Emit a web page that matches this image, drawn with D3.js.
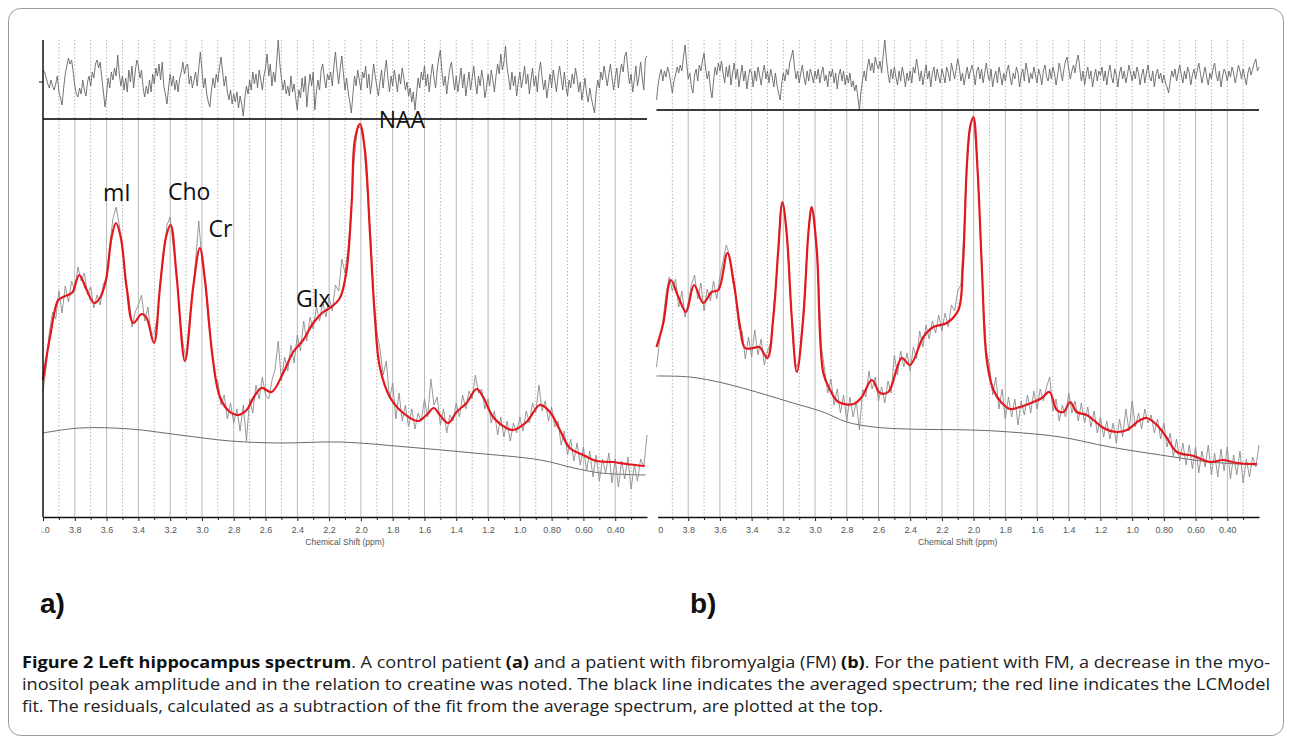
<!DOCTYPE html>
<html>
<head>
<meta charset="utf-8">
<script src="https://cdn.jsdelivr.net/npm/d3@7"></script>
<style>
body { margin: 0; background: #fff; }
svg { display: block; }
</style>
</head>
<body>
<svg id="fig" width="1292" height="745"></svg>
<script>
// x axis ticks (ppm)
var tickPpm = [4.0, 3.8, 3.6, 3.4, 3.2, 3.0, 2.8, 2.6, 2.4, 2.2, 2.0, 1.8, 1.6, 1.4, 1.2, 1.0, 0.8, 0.6, 0.4];
var tickLabels = ["4.0", "3.8", "3.6", "3.4", "3.2", "3.0", "2.8", "2.6", "2.4", "2.2", "2.0", "1.8", "1.6", "1.4", "1.2", "1.0", "0.80", "0.60", "0.40"];
var minorPpm = [3.9, 3.7, 3.5, 3.3, 3.1, 2.9, 2.7, 2.5, 2.3, 2.1, 1.9, 1.7, 1.5, 1.3, 1.1, 0.9, 0.7, 0.5, 0.3];

// metabolite labels (panel a), ppm and intensity of the label anchor
var metNames = ["mI", "Cho", "Cr", "Glx", "NAA"];
var metPpm = [3.535, 3.08, 2.884, 2.30, 1.742];
var metInt = [316, 317, 280, 210, 389];

// LCModel fit, [ppm, intensity a.u.]
var fitA = [[4.00,137],[3.956,180],[3.904,217],[3.872,220],[3.830,223],[3.813,225],[3.772,242],[3.725,227],[3.679,214],[3.642,219],[3.604,237],[3.568,280],[3.541,294],[3.511,280],[3.474,230],[3.432,194],[3.379,203],[3.348,199],[3.302,174],[3.264,230],[3.226,280],[3.197,292],[3.159,240],[3.107,156],[3.055,230],[3.013,269],[2.981,237],[2.933,160],[2.887,120],[2.824,105],[2.772,102],[2.719,107],[2.673,120],[2.625,129],[2.562,125],[2.489,144],[2.426,165],[2.363,177],[2.300,194],[2.237,205],[2.195,209],[2.132,219],[2.090,247],[2.058,314],[2.038,377],[2.006,393],[1.975,367],[1.943,284],[1.912,200],[1.881,150],[1.818,120],[1.734,104],[1.640,96],[1.587,102],[1.541,109],[1.503,102],[1.451,94],[1.398,105],[1.335,114],[1.272,128],[1.231,120],[1.168,100],[1.084,89],[1.042,87],[0.958,95],[0.874,112],[0.811,105],[0.748,87],[0.686,69],[0.602,62],[0.518,56],[0.413,55],[0.329,53],[0.214,51]];
var fitB = [[4.00,170],[3.957,194],[3.910,237],[3.862,220],[3.814,205],[3.763,232],[3.705,214],[3.652,225],[3.610,227],[3.553,264],[3.515,237],[3.473,190],[3.442,169],[3.389,169],[3.351,170],[3.301,159],[3.263,200],[3.232,267],[3.206,315],[3.179,284],[3.147,200],[3.115,145],[3.074,200],[3.042,284],[3.021,310],[2.989,267],[2.948,144],[2.905,127],[2.853,115],[2.758,113],[2.705,120],[2.642,137],[2.590,124],[2.538,125],[2.453,159],[2.401,152],[2.317,180],[2.254,190],[2.169,194],[2.096,207],[2.068,250],[2.043,350],[2.022,390],[2.001,400],[1.976,350],[1.948,250],[1.917,157],[1.875,127],[1.822,114],[1.770,108],[1.707,110],[1.623,115],[1.570,119],[1.522,125],[1.475,107],[1.433,105],[1.391,115],[1.349,105],[1.286,102],[1.244,97],[1.181,89],[1.096,85],[1.033,87],[0.950,97],[0.907,99],[0.844,92],[0.781,79],[0.718,65],[0.613,61],[0.508,55],[0.424,57],[0.340,54],[0.213,53]];

// fitted baseline, [ppm, intensity]
var baseA = [[4.00,84],[3.77,89],[3.45,88],[3.14,82],[2.82,76],[2.51,74],[2.13,75],[1.71,70],[1.29,64],[0.87,57],[0.66,49],[0.49,44],[0.21,42]];
var baseB = [[4.00,141],[3.79,140],[3.58,134],[3.37,125],[3.16,115],[2.95,105],[2.80,95],[2.63,90],[2.42,88],[2.02,87],[1.77,85],[1.45,80],[1.14,70],[0.82,62],[0.51,55],[0.21,52]];

// averaged spectrum, one value every 0.02 ppm from 4.00 down to 0.20
var specStep = 0.02;
var specA = [
  125,150,185,205,198,226,204,231,215,236,
  226,250,236,244,222,230,209,222,212,233,
  238,272,298,310,292,270,232,220,190,205,
  212,222,196,210,182,184,200,240,262,292,
  300,270,246,200,174,158,194,220,256,296,
  256,236,196,172,140,136,112,122,98,114,
  94,108,86,112,76,118,104,132,118,140,
  122,118,136,148,176,136,160,146,172,154,
  182,166,196,176,200,188,210,196,215,200,
  220,206,232,226,258,244,270,310,362,392,
  388,372,326,284,222,186,168,142,156,118,
  134,98,124,96,112,90,108,88,104,96,
  118,100,138,112,120,92,108,84,102,96,
  114,100,122,108,126,118,142,124,128,108,
  118,94,106,82,100,80,96,76,94,84,
  100,86,106,94,114,104,132,106,116,96,
  110,90,96,72,86,62,78,56,74,52,
  70,46,66,40,62,36,58,44,64,34,
  58,30,56,38,60,28,52,36,58,50,
  82];
var specB = [
  150,176,196,222,240,226,238,210,226,200,
  214,232,242,218,234,206,228,216,236,218,
  240,256,272,262,236,220,188,186,158,180,
  160,187,162,178,152,166,174,210,248,304,
  314,284,232,176,150,156,194,238,294,310,
  282,244,170,148,124,138,112,128,104,122,
  96,120,100,116,87,128,120,146,128,140,
  116,130,114,136,124,162,142,166,150,164,
  146,170,158,186,170,192,178,196,184,202,
  186,204,190,212,206,226,232,290,356,394,
  398,362,298,218,166,152,122,140,108,128,
  98,120,100,118,92,116,102,122,104,126,
  108,128,116,130,140,106,118,96,112,100,
  124,104,116,96,114,94,110,90,106,84,
  100,80,96,78,94,74,98,80,108,86,
  116,90,104,88,108,94,102,84,98,78,
  94,70,84,60,78,56,74,52,72,48,
  70,44,66,50,72,42,64,40,68,46,
  70,38,62,42,66,34,58,40,60,50,
  72];

// residuals, one value every 0.01 ppm from 4.00 down to 0.20
var resStep = 0.01;
var resA = [
  12,10,4,-2,-6,2,-4,-8,-2,6,-10,-16,-23,-6,8,16,24,18,22,10,
  -4,-12,-15,-6,-12,2,-8,-14,0,6,-4,10,4,18,22,14,20,4,-10,-25,
  -12,4,-6,10,2,14,6,27,8,-4,6,-8,4,-10,12,0,16,-6,10,22,
  16,4,12,-6,-15,-4,-12,2,-10,8,-2,14,6,18,2,20,-4,-12,-22,-6,
  8,-4,6,-8,2,-10,4,10,20,8,16,18,-2,6,-6,2,10,-4,14,30,
  12,-6,4,-12,-20,-25,-8,4,-6,8,0,14,25,10,-4,6,-10,-18,-8,-22,
  -12,-20,-10,-26,-14,-22,-34,-16,-4,-12,2,-8,10,-2,8,-6,12,2,-8,6,
  14,28,6,18,-4,10,0,20,42,18,4,-8,2,-12,-4,-14,6,-10,-2,-16,
  -28,-8,-16,4,-10,6,-25,-6,8,-4,10,-28,-10,2,-8,12,18,4,-6,8,
  2,10,-4,16,30,12,-2,14,26,8,-8,4,-10,-20,-31,-12,6,-4,12,2,
  -8,10,4,16,-6,8,-12,2,18,6,-4,-14,0,12,-6,10,22,4,-10,6,
  -4,12,2,-10,8,-2,14,4,-8,0,-14,-6,-20,-10,-28,-12,4,-6,10,2,
  16,-4,8,-10,6,18,4,-6,12,24,32,10,-4,6,-12,2,14,20,4,-8,
  6,-10,2,14,-6,8,-14,-2,10,-8,4,16,0,-12,6,-4,12,2,-16,-6,
  8,-4,12,2,-10,6,18,8,28,12,20,36,14,4,-8,10,-4,6,-14,0,
  10,-6,4,16,-2,8,-12,2,14,-4,6,-10,10,20,4,-8,2,-16,-4,8,
  -6,12,2,-10,6,16,4,-8,10,-4,-14,2,-6,8,-2,14,4,-10,0,-18,
  -8,4,-12,-20,-6,-16,-24,-31,-10,2,-6,10,2,16,6,-4,8,18,4,-8,
  4,14,-6,8,18,10,26,30,12,-2,8,-10,2,16,-4,6,20,4,-8,24,
  26];
var resB = [
  -23,-8,2,8,-4,6,0,10,4,-6,-16,-4,2,10,4,12,6,20,32,14,
  -2,4,-10,-16,2,8,-4,12,6,16,24,8,-2,6,-12,-21,-4,10,2,14,
  6,16,4,-6,10,0,12,-8,4,14,-2,8,-10,2,12,-4,6,-12,0,8,
  4,-10,6,-4,10,2,-8,4,12,-2,6,-6,8,0,-10,4,-8,-16,-23,-6,
  4,-4,8,2,14,20,27,10,-2,6,-6,4,12,0,-8,6,-4,8,2,-6,
  6,-2,8,-6,4,10,-4,2,-10,6,0,8,-6,4,-12,2,8,-4,6,-8,
  2,-6,4,-10,-4,-14,-8,-20,-33,-14,-2,6,-4,10,18,6,14,4,20,12,
  8,16,4,22,37,18,4,-6,8,-2,10,0,-8,6,-4,10,2,-10,4,-4,
  6,-6,10,4,18,8,-4,6,-8,2,12,-2,6,-10,4,10,-4,8,0,-6,
  8,2,-6,10,4,-4,14,6,-2,8,18,10,-4,4,-8,2,10,-2,6,12,
  4,-8,6,10,-2,8,-6,4,14,2,-4,8,-10,0,6,-6,10,2,-8,4,
  -4,6,12,0,-8,4,-2,10,4,-10,2,8,-4,14,6,-6,4,-2,10,2,
  -6,8,2,-8,6,12,0,-4,8,-2,10,4,-8,2,14,6,-4,8,16,20,
  8,-2,6,12,4,16,22,8,-4,6,-8,2,10,-2,6,-10,0,8,-4,6,
  2,10,-4,6,-8,4,12,0,-6,8,2,-10,4,10,-2,6,-6,2,12,4,
  -4,6,-2,10,4,-8,2,8,-6,4,12,0,-4,6,-10,2,8,-2,4,-6,
  2,-6,-10,-16,-4,6,0,8,-4,4,12,2,-6,6,-2,10,4,-8,2,8,
  -2,6,14,4,-6,2,10,0,-8,4,-2,8,14,2,-4,6,-10,0,8,4,
  -4,6,0,10,4,-6,2,12,6,-2,8,0,-8,4,10,2,8,14,18,6,
  10];

var captionLines = [
  [["Figure 2 Left hippocampus spectrum", true], [". A control patient ", false], ["(a)", true], [" and a patient with fibromyalgia (FM) ", false], ["(b)", true], [". For the patient with FM, a decrease in the myo-", false]],
  [["inositol peak amplitude and in the relation to creatine was noted. The black line indicates the averaged spectrum; the red line indicates the LCModel", false]],
  [["fit. The residuals, calculated as a subtraction of the fit from the average spectrum, are plotted at the top.", false]]
];

// ---- layout ----
var svg = d3.select("#fig");
var ppmHi = 4.0, ppmLo = 0.2;
var axisY = 517, topY = 40;

var y = d3.scaleLinear().domain([0, 400]).range([axisY, axisY - 400]);

var panels = [
  { left: 43, right: 647, lineY: 119, resMid: 82, leftAxis: true, clipPad: -1.5, fit: fitA, spec: specA, base: baseA, res: resA, tag: "a)", tagX: 40, labels: true },
  { left: 656.5, right: 1259, lineY: 110, resMid: 77, leftAxis: false, clipPad: 1.5, fit: fitB, spec: specB, base: baseB, res: resB, tag: "b)", tagX: 690, labels: false }
];

// frame
svg.append("rect")
    .attr("x", 8.5).attr("y", 8.5)
    .attr("width", 1275).attr("height", 727)
    .attr("rx", 12).attr("ry", 12)
    .attr("fill", "none").attr("stroke", "#9a9a9a").attr("stroke-width", 1);

var isMajor = function(d) { return Math.round(d * 10) % 2 === 0; };

panels.forEach(function(p, k)
{
    var x = d3.scaleLinear().domain([ppmHi, ppmLo]).range([p.left, p.right]);
    var yr = d3.scaleLinear().domain([-40, 40]).range([p.resMid + 40, p.resMid - 40]);
    var g = svg.append("g");

    // grid: dotted every 0.1 ppm, solid at 0.2 ppm below the residual line
    var gridPpm = minorPpm.concat(tickPpm.slice(1));
    g.selectAll("line.dot").data(gridPpm).join("line")
        .attr("class", "dot")
        .attr("x1", function(d) { return x(d); }).attr("x2", function(d) { return x(d); })
        .attr("y1", topY)
        .attr("y2", function(d) { return isMajor(d) ? p.lineY : axisY; })
        .attr("stroke", "#b4b4b4").attr("stroke-width", 1)
        .attr("stroke-dasharray", "1.5,2");
    g.selectAll("line.solid").data(tickPpm.slice(1)).join("line")
        .attr("class", "solid")
        .attr("x1", function(d) { return x(d); }).attr("x2", function(d) { return x(d); })
        .attr("y1", p.lineY).attr("y2", axisY)
        .attr("stroke", "#b8b8b8").attr("stroke-width", 1);

    // residuals
    var resLine = d3.line()
        .x(function(d, i) { return x(ppmHi - i * resStep); })
        .y(function(d) { return yr(d); });
    g.append("path").datum(p.res)
        .attr("d", resLine)
        .attr("fill", "none").attr("stroke", "#666").attr("stroke-width", 0.9);

    // residual zero / separator line
    g.append("line")
        .attr("x1", p.left).attr("x2", p.right)
        .attr("y1", p.lineY).attr("y2", p.lineY)
        .attr("stroke", "#3a3a3a").attr("stroke-width", 2);

    // baseline
    var smooth = d3.line()
        .x(function(d) { return x(d[0]); })
        .y(function(d) { return y(d[1]); })
        .curve(d3.curveCatmullRom.alpha(0.5));
    g.append("path").datum(p.base)
        .attr("d", smooth)
        .attr("fill", "none").attr("stroke", "#6a6a6a").attr("stroke-width", 1);

    // averaged spectrum
    var specLine = d3.line()
        .x(function(d, i) { return x(ppmHi - i * specStep); })
        .y(function(d) { return y(d); });
    g.append("path").datum(p.spec)
        .attr("d", specLine)
        .attr("fill", "none").attr("stroke", "#8c8c8c").attr("stroke-width", 0.9);

    // LCModel fit
    g.append("path").datum(p.fit)
        .attr("d", smooth)
        .attr("fill", "none").attr("stroke", "#e3171d").attr("stroke-width", 2.2)
        .attr("stroke-linejoin", "round");

    // left axis (panel a only)
    if (p.leftAxis)
    {
        g.append("line")
            .attr("x1", p.left).attr("x2", p.left)
            .attr("y1", topY).attr("y2", axisY)
            .attr("stroke", "#111").attr("stroke-width", 1.5);
        g.append("line")
            .attr("x1", p.left - 4).attr("x2", p.left)
            .attr("y1", yr(0)).attr("y2", yr(0))
            .attr("stroke", "#111").attr("stroke-width", 1);
    }

    // x axis; the 4.0 label is cut at the panel edge as in the original
    var clipId = "clip" + k;
    svg.append("clipPath").attr("id", clipId)
        .append("rect").attr("x", p.left + p.clipPad).attr("y", -5)
        .attr("width", p.right - p.left + 30).attr("height", 40);

    var axG = g.append("g")
        .attr("transform", "translate(0," + axisY + ")")
        .attr("clip-path", "url(#" + clipId + ")")
        .call(d3.axisBottom(x)
            .tickValues(tickPpm)
            .tickFormat(function(d, i) { return tickLabels[i]; })
            .tickSize(4).tickPadding(6).tickSizeOuter(0));
    axG.select(".domain").attr("stroke", "#111").attr("stroke-width", 1.6);
    axG.selectAll(".tick line").attr("stroke", "#222");
    axG.selectAll(".tick text")
        .attr("font-family", "'Liberation Sans', Arial, sans-serif")
        .attr("font-size", 9).attr("fill", "#555");

    g.append("g")
        .attr("transform", "translate(0," + axisY + ")")
        .call(d3.axisBottom(x).tickValues(minorPpm).tickFormat("").tickSize(3).tickSizeOuter(0))
        .call(function(s) { s.select(".domain").remove(); })
        .selectAll(".tick line").attr("stroke", "#222");

    g.append("text")
        .attr("x", x((ppmHi + ppmLo) / 2)).attr("y", axisY + 28)
        .attr("text-anchor", "middle")
        .attr("font-family", "'Liberation Sans', Arial, sans-serif")
        .attr("font-size", 8.5).attr("fill", "#555")
        .text("Chemical Shift (ppm)");

    // metabolite labels
    if (p.labels)
    {
        g.selectAll("text.met").data(metNames).join("text")
            .attr("class", "met")
            .attr("x", function(d, i) { return x(metPpm[i]); })
            .attr("y", function(d, i) { return y(metInt[i]); })
            .attr("text-anchor", "middle")
            .attr("font-family", "'Open Sans', sans-serif")
            .attr("font-size", 23).attr("fill", "#111")
            .text(function(d) { return d; });
    }

    // panel tag
    svg.append("text")
        .attr("x", p.tagX).attr("y", 613)
        .attr("font-family", "'Liberation Sans', Arial, sans-serif")
        .attr("font-weight", "bold").attr("font-size", 28).attr("fill", "#111")
        .text(p.tag);
});

// caption, stretched to the widths of the printed lines
var capY = [668, 690, 712];
var capWidth = [1248, 1248, 861];
captionLines.forEach(function(line, i)
{
    var t = svg.append("text")
        .attr("x", 22).attr("y", capY[i])
        .attr("font-family", "'Open Sans', sans-serif")
        .attr("font-size", 16).attr("fill", "#222")
        .attr("textLength", capWidth[i]).attr("lengthAdjust", "spacingAndGlyphs");
    t.selectAll("tspan").data(line).join("tspan")
        .attr("font-weight", function(d) { return d[1] ? "bold" : null; })
        .attr("fill", function(d) { return d[1] ? "#111" : null; })
        .text(function(d) { return d[0]; });
});
</script>
</body>
</html>
